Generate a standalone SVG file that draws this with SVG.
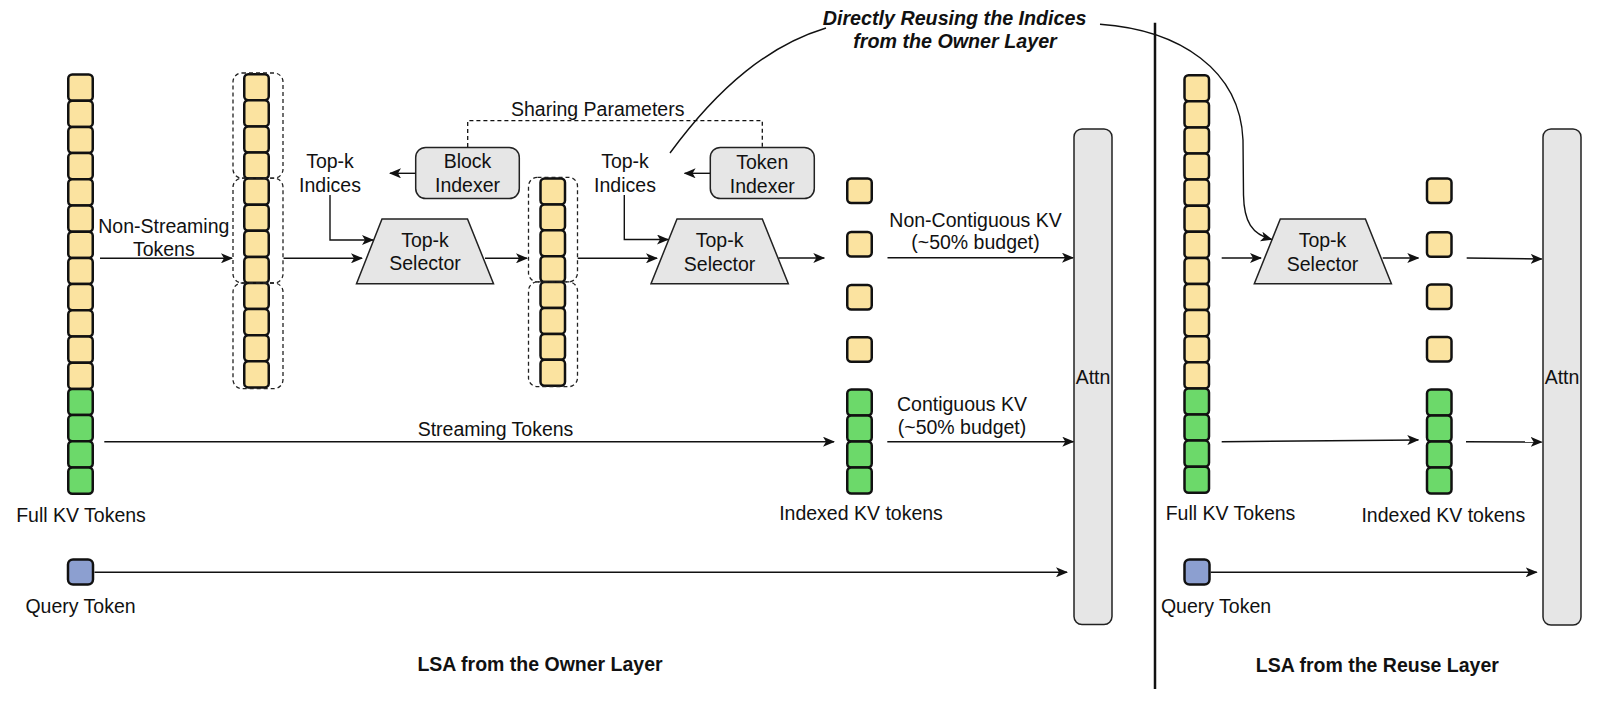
<svg xmlns="http://www.w3.org/2000/svg" width="1600" height="708" viewBox="0 0 1600 708">
<defs>
<style>
text{font-family:"Liberation Sans",Arial,Helvetica,sans-serif;font-size:19.5px;fill:#111;text-anchor:middle}
.b{font-weight:bold}
.bi{font-weight:bold;font-style:italic;font-size:19.7px}
.y{fill:#FBE3A0;stroke:#111;stroke-width:2.5}
.g{fill:#6CD96A;stroke:#111;stroke-width:2.5}
.q{fill:#8C9FD0;stroke:#111;stroke-width:2.5}
.grp{fill:none;stroke:#222;stroke-width:1.3;stroke-dasharray:4 3}
.box{fill:#E6E6E6;stroke:#222;stroke-width:1.5}
.ln{fill:none;stroke:#111;stroke-width:1.4}
.arr{fill:none;stroke:#111;stroke-width:1.4;marker-end:url(#ah)}
.dash{fill:none;stroke:#111;stroke-width:1.3;stroke-dasharray:4 3}
</style>
<marker id="ah" viewBox="0 0 12 10" refX="11" refY="5" markerWidth="12" markerHeight="10" markerUnits="userSpaceOnUse" orient="auto">
<path d="M0,0 L12,5 L0,10 L3,5 z" fill="#111"/>
</marker>
</defs>
<rect width="1600" height="708" fill="#fff"/>

<!-- Owner layer: Full KV column -->
<g id="owner-full-kv">
<rect class="y" x="68.25" y="74.5" width="24.5" height="26.2" rx="4"/>
<rect class="y" x="68.25" y="100.7" width="24.5" height="26.2" rx="4"/>
<rect class="y" x="68.25" y="126.9" width="24.5" height="26.2" rx="4"/>
<rect class="y" x="68.25" y="153.1" width="24.5" height="26.2" rx="4"/>
<rect class="y" x="68.25" y="179.3" width="24.5" height="26.2" rx="4"/>
<rect class="y" x="68.25" y="205.5" width="24.5" height="26.2" rx="4"/>
<rect class="y" x="68.25" y="231.7" width="24.5" height="26.2" rx="4"/>
<rect class="y" x="68.25" y="257.9" width="24.5" height="26.2" rx="4"/>
<rect class="y" x="68.25" y="284.1" width="24.5" height="26.2" rx="4"/>
<rect class="y" x="68.25" y="310.3" width="24.5" height="26.2" rx="4"/>
<rect class="y" x="68.25" y="336.5" width="24.5" height="26.2" rx="4"/>
<rect class="y" x="68.25" y="362.7" width="24.5" height="26.2" rx="4"/>
<rect class="g" x="68.25" y="388.9" width="24.5" height="26.2" rx="4"/>
<rect class="g" x="68.25" y="415.1" width="24.5" height="26.2" rx="4"/>
<rect class="g" x="68.25" y="441.3" width="24.5" height="26.2" rx="4"/>
<rect class="g" x="68.25" y="467.5" width="24.5" height="26.2" rx="4"/>
<text x="81" y="521.5">Full KV Tokens</text>
</g>

<!-- Owner layer: block-grouped non-streaming column -->
<g id="owner-blocks">
<rect class="y" x="244.25" y="74.2" width="24.5" height="26.1" rx="4"/>
<rect class="y" x="244.25" y="100.3" width="24.5" height="26.1" rx="4"/>
<rect class="y" x="244.25" y="126.4" width="24.5" height="26.1" rx="4"/>
<rect class="y" x="244.25" y="152.5" width="24.5" height="26.1" rx="4"/>
<rect class="y" x="244.25" y="178.6" width="24.5" height="26.1" rx="4"/>
<rect class="y" x="244.25" y="204.7" width="24.5" height="26.1" rx="4"/>
<rect class="y" x="244.25" y="230.8" width="24.5" height="26.1" rx="4"/>
<rect class="y" x="244.25" y="256.9" width="24.5" height="26.1" rx="4"/>
<rect class="y" x="244.25" y="283.0" width="24.5" height="26.1" rx="4"/>
<rect class="y" x="244.25" y="309.1" width="24.5" height="26.1" rx="4"/>
<rect class="y" x="244.25" y="335.2" width="24.5" height="26.1" rx="4"/>
<rect class="y" x="244.25" y="361.3" width="24.5" height="26.1" rx="4"/>
<rect class="grp" x="233" y="73" width="50" height="105.2" rx="9"/>
<rect class="grp" x="233" y="178.2" width="50" height="104.8" rx="9"/>
<rect class="grp" x="233" y="283" width="50" height="105.6" rx="9"/>
</g>

<!-- Owner layer: selected blocks column -->
<g id="owner-selected-blocks">
<rect class="y" x="540.5" y="178.5" width="24.5" height="25.9" rx="4"/>
<rect class="y" x="540.5" y="204.4" width="24.5" height="25.9" rx="4"/>
<rect class="y" x="540.5" y="230.3" width="24.5" height="25.9" rx="4"/>
<rect class="y" x="540.5" y="256.2" width="24.5" height="25.9" rx="4"/>
<rect class="y" x="540.5" y="282.1" width="24.5" height="25.9" rx="4"/>
<rect class="y" x="540.5" y="308.0" width="24.5" height="25.9" rx="4"/>
<rect class="y" x="540.5" y="333.9" width="24.5" height="25.9" rx="4"/>
<rect class="y" x="540.5" y="359.8" width="24.5" height="25.9" rx="4"/>
<rect class="grp" x="528.5" y="177.3" width="49" height="104.6" rx="9"/>
<rect class="grp" x="528.5" y="281.9" width="49" height="104.8" rx="9"/>
</g>

<!-- Owner layer: indexed KV -->
<g id="owner-indexed-kv">
<rect class="y" x="847.25" y="178.5" width="24.5" height="24.5" rx="4"/>
<rect class="y" x="847.25" y="232" width="24.5" height="24.5" rx="4"/>
<rect class="y" x="847.25" y="285" width="24.5" height="24.5" rx="4"/>
<rect class="y" x="847.25" y="337.3" width="24.5" height="24.5" rx="4"/>
<rect class="g" x="847.25" y="389.5" width="24.5" height="26" rx="4"/>
<rect class="g" x="847.25" y="415.5" width="24.5" height="26" rx="4"/>
<rect class="g" x="847.25" y="441.5" width="24.5" height="26" rx="4"/>
<rect class="g" x="847.25" y="467.5" width="24.5" height="26" rx="4"/>
<text x="861" y="520">Indexed KV tokens</text>
</g>

<g id="owner-query">
<rect class="q" x="68" y="559.5" width="25" height="25" rx="5"/>
<text x="80.5" y="613">Query Token</text>
</g>

<g id="block-indexer">
<rect class="box" x="415.7" y="147.4" width="103.6" height="51.2" rx="10"/>
<text x="467.5" y="168.3">Block</text>
<text x="467.5" y="191.7">Indexer</text>
</g>

<g id="token-indexer">
<rect class="box" x="710.3" y="147.4" width="104" height="51.2" rx="10"/>
<text x="762.3" y="169">Token</text>
<text x="762.3" y="192.5">Indexer</text>
</g>

<g id="selector-1">
<polygon class="box" points="382,219 467.5,219 493.5,283.7 356.5,283.7"/>
<text x="425" y="246.7">Top-k</text>
<text x="425" y="270">Selector</text>
</g>

<g id="selector-2">
<polygon class="box" points="677,219 762.3,219 788.3,283.7 651,283.7"/>
<text x="719.6" y="247">Top-k</text>
<text x="719.6" y="270.5">Selector</text>
</g>

<g id="attn-owner">
<rect class="box" x="1074" y="129" width="38" height="495.5" rx="8"/>
<text x="1093" y="384.3">Attn</text>
</g>

<!-- Reuse layer -->
<g id="reuse-full-kv">
<rect class="y" x="1184.5" y="75.2" width="24.5" height="26.1" rx="4"/>
<rect class="y" x="1184.5" y="101.3" width="24.5" height="26.1" rx="4"/>
<rect class="y" x="1184.5" y="127.4" width="24.5" height="26.1" rx="4"/>
<rect class="y" x="1184.5" y="153.5" width="24.5" height="26.1" rx="4"/>
<rect class="y" x="1184.5" y="179.6" width="24.5" height="26.1" rx="4"/>
<rect class="y" x="1184.5" y="205.7" width="24.5" height="26.1" rx="4"/>
<rect class="y" x="1184.5" y="231.8" width="24.5" height="26.1" rx="4"/>
<rect class="y" x="1184.5" y="257.9" width="24.5" height="26.1" rx="4"/>
<rect class="y" x="1184.5" y="284.0" width="24.5" height="26.1" rx="4"/>
<rect class="y" x="1184.5" y="310.1" width="24.5" height="26.1" rx="4"/>
<rect class="y" x="1184.5" y="336.2" width="24.5" height="26.1" rx="4"/>
<rect class="y" x="1184.5" y="362.3" width="24.5" height="26.1" rx="4"/>
<rect class="g" x="1184.5" y="388.4" width="24.5" height="26.1" rx="4"/>
<rect class="g" x="1184.5" y="414.5" width="24.5" height="26.1" rx="4"/>
<rect class="g" x="1184.5" y="440.6" width="24.5" height="26.1" rx="4"/>
<rect class="g" x="1184.5" y="466.7" width="24.5" height="26.1" rx="4"/>
<text x="1230.5" y="520">Full KV Tokens</text>
</g>

<g id="reuse-indexed-kv">
<rect class="y" x="1427" y="178.5" width="24.5" height="24.5" rx="4"/>
<rect class="y" x="1427" y="232.3" width="24.5" height="24.5" rx="4"/>
<rect class="y" x="1427" y="284.5" width="24.5" height="24.5" rx="4"/>
<rect class="y" x="1427" y="337" width="24.5" height="24.5" rx="4"/>
<rect class="g" x="1427" y="389.5" width="24.5" height="26" rx="4"/>
<rect class="g" x="1427" y="415.5" width="24.5" height="26" rx="4"/>
<rect class="g" x="1427" y="441.5" width="24.5" height="26" rx="4"/>
<rect class="g" x="1427" y="467.5" width="24.5" height="26" rx="4"/>
<text x="1443.3" y="521.5">Indexed KV tokens</text>
</g>

<g id="reuse-query">
<rect class="q" x="1184.5" y="559.5" width="25" height="25" rx="5"/>
<text x="1216" y="612.7">Query Token</text>
</g>

<g id="selector-3">
<polygon class="box" points="1280.3,219 1365.4,219 1391.4,283.7 1254.3,283.7"/>
<text x="1322.5" y="247.3">Top-k</text>
<text x="1322.5" y="270.7">Selector</text>
</g>

<g id="attn-reuse">
<rect class="box" x="1543" y="129" width="38" height="496" rx="8"/>
<text x="1562" y="384.3">Attn</text>
</g>

<!-- Labels -->
<g id="labels">
<text x="163.8" y="233.3">Non-Streaming</text>
<text x="163.8" y="256">Tokens</text>
<text x="330" y="168.3">Top-k</text>
<text x="330" y="191.7">Indices</text>
<text x="625" y="168.3">Top-k</text>
<text x="625" y="191.7">Indices</text>
<text x="597.7" y="116">Sharing Parameters</text>
<text x="975.5" y="226.5">Non-Contiguous KV</text>
<text x="975.5" y="249">(~50% budget)</text>
<text x="495.5" y="436">Streaming Tokens</text>
<text x="962" y="411">Contiguous KV</text>
<text x="962" y="434.3">(~50% budget)</text>
<text class="bi" x="954.6" y="25">Directly Reusing the Indices</text>
<text class="bi" x="955" y="47.7">from the Owner Layer</text>
<text class="b" x="540" y="671">LSA from the Owner Layer</text>
<text class="b" x="1377.3" y="671.7">LSA from the Reuse Layer</text>
</g>

<!-- Connectors -->
<g id="connectors">
<line x1="1155" y1="22.7" x2="1155" y2="689" stroke="#111" stroke-width="2.5"/>
<path class="dash" d="M467.7,147 V120.7 H762.3 V147"/>
<path class="arr" d="M100,258.3 H232"/>
<path class="arr" d="M283.5,258.3 H362"/>
<path class="arr" d="M330,195 V240 H373"/>
<path class="arr" d="M415.5,173.3 H390"/>
<path class="arr" d="M485,258.3 H527"/>
<path class="arr" d="M577.7,258.3 H657"/>
<path class="arr" d="M624.3,195 V239.5 H668"/>
<path class="arr" d="M710,173.3 H684.6"/>
<path class="arr" d="M778.6,258 H824.3"/>
<path class="arr" d="M887.5,257.7 H1073"/>
<path class="arr" d="M104.3,441.7 H834"/>
<path class="arr" d="M887.3,441.7 H1073.3"/>
<path class="arr" d="M94.5,572.3 H1067"/>
<path class="ln" d="M670,153 C720,85 770,45 826,28"/>
<path class="arr" d="M1100,24.3 C1180,30 1240,70 1243,140 L1243.5,195 C1244,222 1252,234 1271.7,239.5"/>
<path class="arr" d="M1221.7,258 H1261"/>
<path class="arr" d="M1382.7,258 H1418.3"/>
<path class="arr" d="M1466.7,258 L1541.7,259"/>
<path class="arr" d="M1221.7,441.7 L1418.3,440"/>
<path class="arr" d="M1466,441.7 L1541.7,442"/>
<path class="arr" d="M1210.7,572.3 H1536.7"/>
</g>
</svg>
